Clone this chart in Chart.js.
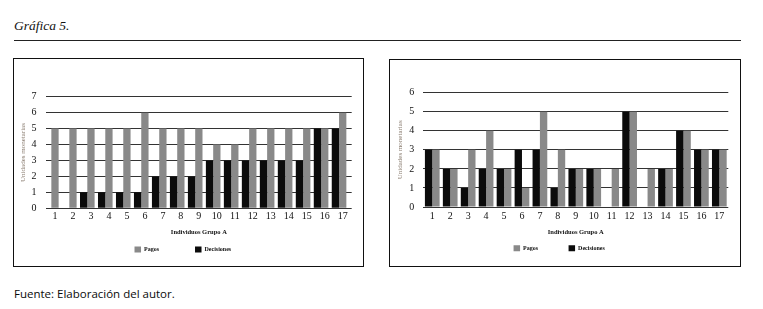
<!DOCTYPE html>
<html>
<head>
<meta charset="utf-8">
<script src="https://cdn.jsdelivr.net/npm/chart.js@4/dist/chart.umd.min.js"></script>
<style>
html,body{margin:0;padding:0;background:#fff;width:763px;height:309px;overflow:hidden;position:relative}
#title{position:absolute;left:14px;top:18px;font:italic 13.5px "Liberation Serif";line-height:15px;color:#111;white-space:nowrap}
#rule{position:absolute;left:14px;top:40px;width:727px;height:1px;background:#222}
.box{position:absolute;border:1px solid #111;overflow:hidden;background:#fff}
#box1{left:13px;top:58px;width:349px;height:207px}
#box2{left:389px;top:59px;width:350px;height:206px}
canvas{display:block}
#source{position:absolute;left:14px;top:286px;font:11.5px "Open Sans";line-height:16px;color:#0a0a0a;white-space:nowrap}
</style>
</head>
<body>
<div id="title">Gráfica 5.</div>
<div id="rule"></div>
<div class="box" id="box1"><canvas id="c1" width="349" height="207"></canvas></div>
<div class="box" id="box2"><canvas id="c2" width="350" height="206"></canvas></div>
<div id="source">Fuente: Elaboración del autor.</div>
<script>
// ---- data ----
const categories = ['1','2','3','4','5','6','7','8','9','10','11','12','13','14','15','16','17'];
const seriesNames = ['Pagos', 'Decisiones'];
const xTitle = 'Individuos Grupo A';
const yTitle = 'Unidades monetarias';

const leftPagos      = [5,5,5,5,5,6,5,5,5,4,4,5,5,5,5,5,6];
const leftDecisiones = [0,0,1,1,1,1,2,2,2,3,3,3,3,3,3,5,5];
const leftYMax = 7;

const rightPagos      = [3,2,3,4,2,1,5,3,2,2,2,5,2,2,4,3,3];
const rightDecisiones = [3,2,1,2,2,3,3,1,2,2,0,5,0,2,4,3,3];
const rightYMax = 6;

// ---- style ----
const GRAY = '#898989';
const BLACK = '#0b0b0b';
const SERIF = '"Liberation Serif", "DejaVu Serif", serif';
Chart.defaults.font.family = SERIF;
Chart.defaults.color = '#111';

function buildOptions(p) {
  return {
    responsive: false,
    animation: false,
    events: [],
    layout: { padding: { left: 0, right: p.padRight, top: p.padTop, bottom: p.padBottom } },
    plugins: {
      tooltip: { enabled: false },
      legend: {
        position: 'bottom',
        reverse: true,
        labels: {
          filter: item => item.text !== '',
          boxWidth: 6.5,
          boxHeight: 6,
          padding: p.legendPad,
          color: '#111',
          font: { family: SERIF, size: 6, weight: 'bold' }
        }
      }
    },
    scales: {
      x: {
        grid: { display: false },
        border: { display: false },
        ticks: { mirror: true, padding: p.xTickPad, maxRotation: 0, minRotation: 0, autoSkip: false,
                 color: '#111', font: { family: SERIF, size: 10 } },
        title: { display: true, text: xTitle, color: '#111',
                 font: { family: SERIF, size: 6.5, weight: 'bold' },
                 padding: { top: 0, bottom: p.xTitlePad } },
        afterFit: s => { s.height = p.xHeight; }
      },
      y: {
        min: 0,
        max: p.yMax,
        ticks: { stepSize: 1, padding: p.yTickPad, color: '#111', font: { family: SERIF, size: 10 } },
        grid: { color: '#333', lineWidth: 1, drawTicks: false },
        border: { display: false },
        title: { display: true, text: yTitle, color: '#8a7d70',
                 font: { family: SERIF, size: 7 },
                 padding: { top: p.yTitlePad, bottom: 0 } },
        afterFit: s => { s.width = p.yWidth; }
      }
    }
  };
}

// Left chart: grey bars centred on the category, black bars just to their left
new Chart(document.getElementById('c1'), {
  type: 'bar',
  data: {
    labels: categories,
    datasets: [
      { label: seriesNames[1], data: leftDecisiones, backgroundColor: BLACK, borderWidth: 0,
        categoryPercentage: 1.624, barPercentage: 0.5 },
      { label: '', data: [], backgroundColor: 'rgba(0,0,0,0)', borderWidth: 0 },
      { label: seriesNames[0], data: leftPagos, backgroundColor: GRAY, borderWidth: 0,
        grouped: false, categoryPercentage: 1, barPercentage: 0.406 }
    ]
  },
  options: buildOptions({
    padRight: 11.3, padTop: 37.7, padBottom: 3.5, legendPad: 36,
    xTickPad: -14.4, xTitlePad: -26.1, xHeight: 2.2,
    yMax: leftYMax, yTickPad: 9.5, yTitlePad: 5.1, yWidth: 32
  })
});

// Right chart: black then grey, side by side
new Chart(document.getElementById('c2'), {
  type: 'bar',
  data: {
    labels: categories,
    datasets: [
      { label: seriesNames[1], data: rightDecisiones, backgroundColor: BLACK, borderWidth: 0,
        categoryPercentage: 0.82, barPercentage: 1 },
      { label: seriesNames[0], data: rightPagos, backgroundColor: GRAY, borderWidth: 0,
        categoryPercentage: 0.82, barPercentage: 1 }
    ]
  },
  options: buildOptions({
    padRight: 11.7, padTop: 32.7, padBottom: 4.7, legendPad: 30.5,
    xTickPad: -15.7, xTitlePad: -21.4, xHeight: 7.8,
    yMax: rightYMax, yTickPad: 9.1, yTitlePad: 5.8, yWidth: 33.3
  })
});
</script>
</body>
</html>
